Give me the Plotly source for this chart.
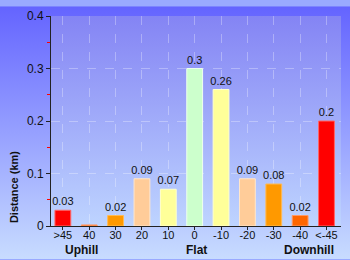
import base64
import plotly.graph_objects as go

categories = [">45", "40", "30", "20", "10", "0", "-10", "-20", "-30", "-40", "<-45"]
distance_km = [0.03, 0.002, 0.02, 0.09, 0.07, 0.3, 0.26, 0.09, 0.08, 0.02, 0.2]
value_labels = ["0.03", "", "0.02", "0.09", "0.07", "0.3", "0.26", "0.09", "0.08", "0.02", "0.2"]
bar_colors = ["#ff0000", "#ff6600", "#ff9900", "#ffcc99", "#ffff99", "#ccffcc",
              "#ffff99", "#ffcc99", "#ff9900", "#ff6600", "#ff0000"]
edge_colors = ["#ff6666", "#ff9966", "#ffbb55", "#ffe6cc", "#ffffcc", "#eeffee",
               "#ffffcc", "#ffe6cc", "#ffbb55", "#ff9966", "#ff6666"]
y_ticks = [0, 0.1, 0.2, 0.3, 0.4]
y_ticklabels = ["0", "0.1", "0.2", "0.3", "0.4"]

W, H = 350, 260
L, R, T, B = 51, 9, 10, 34
pw, ph = W - L - R, H - T - B


def grad(c1, c2):
    svg = ('<svg xmlns="http://www.w3.org/2000/svg" width="100" height="100" preserveAspectRatio="none">'
           '<defs><linearGradient id="g" x1="0" y1="0" x2="0" y2="1">'
           f'<stop offset="0" stop-color="{c1}"/><stop offset="1" stop-color="{c2}"/>'
           '</linearGradient></defs><rect width="100" height="100" fill="url(#g)"/></svg>')
    return "data:image/svg+xml;base64," + base64.b64encode(svg.encode()).decode()


FAM = "Liberation Sans, Arial"
font = dict(family=FAM, size=11, color="#111111")

fig = go.Figure()
fig.add_trace(go.Bar(
    x=categories, y=distance_km,
    marker=dict(color=bar_colors, line=dict(color=edge_colors, width=1)),
    text=value_labels, textposition="outside", cliponaxis=False,
    constraintext="none",
    textfont=font, outsidetextfont=font,
    width=0.6,
))

fig.update_layout(
    width=W, height=H,
    margin=dict(l=L, r=R, t=T, b=B, pad=0),
    paper_bgcolor="#9aaaff",
    plot_bgcolor="rgba(0,0,0,0)",
    showlegend=False,
    font=font,
    images=[
        dict(source=grad("#6464ff", "#c8dcff"), xref="paper", yref="paper",
             x=-L / pw, y=1 + T / ph, sizex=W / pw, sizey=H / ph,
             sizing="stretch", layer="below", xanchor="left", yanchor="top"),
        dict(source=grad("#8484f4", "#bed4ff"), xref="paper", yref="paper",
             x=0, y=1, sizex=1, sizey=1,
             sizing="stretch", layer="below", xanchor="left", yanchor="top"),
    ],
    xaxis=dict(
        type="category", range=[-0.45, 10.55],
        showline=True, linecolor="#222222", linewidth=1,
        ticks="outside", ticklen=3, tickcolor="#222222",
        ticklabelstandoff=-4,
        showgrid=True, gridcolor="rgba(255,255,255,0.3)", griddash="dash", gridwidth=1,
        tickfont=font, zeroline=False, fixedrange=True,
    ),
    yaxis=dict(
        range=[0, 0.4], tickvals=y_ticks, ticktext=y_ticklabels,
        showline=True, linecolor="#222222", linewidth=1,
        ticks="outside", ticklen=4, tickcolor="#222222",
        minor=dict(dtick=0.05, ticks="outside", ticklen=3, tickcolor="#ff0000", showgrid=False),
        showgrid=True, gridcolor="rgba(255,255,255,0.3)", griddash="dash", gridwidth=1,
        tickfont=dict(family=FAM, size=12, color="#111111"), zeroline=False, fixedrange=True,
    ),
    annotations=[
        dict(text="<b>Distance (km)</b>", textangle=-90, xref="paper", yref="paper",
             x=(14 - L) / pw, y=(H - B - 186) / ph, showarrow=False,
             xanchor="center", yanchor="middle",
             font=dict(family=FAM, size=11, color="#111111")),
        dict(text="<b>Uphill</b>", xref="paper", yref="paper",
             x=(81 - L) / pw, y=(H - B - 251) / ph, showarrow=False,
             xanchor="center", yanchor="middle",
             font=dict(family=FAM, size=12, color="#111111")),
        dict(text="<b>Flat</b>", xref="paper", yref="paper",
             x=(196 - L) / pw, y=(H - B - 251) / ph, showarrow=False,
             xanchor="center", yanchor="middle",
             font=dict(family=FAM, size=12, color="#111111")),
        dict(text="<b>Downhill</b>", xref="paper", yref="paper",
             x=(309 - L) / pw, y=(H - B - 251) / ph, showarrow=False,
             xanchor="center", yanchor="middle",
             font=dict(family=FAM, size=12, color="#111111")),
    ],
)

fig.write_html("out.html")
